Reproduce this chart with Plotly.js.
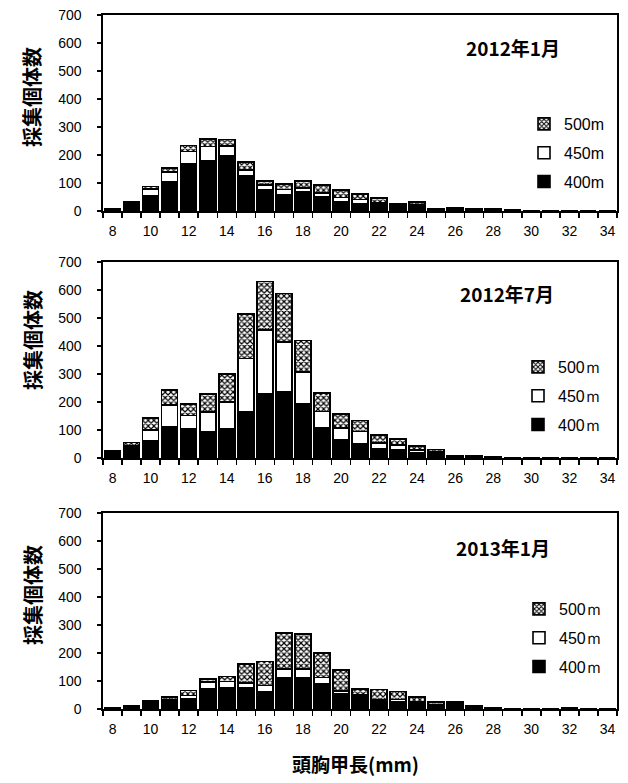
<!DOCTYPE html>
<html>
<head>
<meta charset="utf-8">
<script src="https://cdn.plot.ly/plotly-3.0.1.min.js"></script>
<style>html,body{margin:0;padding:0;background:#fff;}#chart{width:628px;height:783px;}</style>
</head>
<body>
<div id="chart"></div>
<script>
// carapace length classes (mm)
const sizes = [8,9,10,11,12,13,14,15,16,17,18,19,20,21,22,23,24,25,26,27,28,29,30,31,32,33,34];
const tickLabels = [8,10,12,14,16,18,20,22,24,26,28,30,32,34];

// 2012年1月
const jan12_400 = [8,22,53,103,168,181,196,125,75,59,68,50,34,27,24,14,18,5,6,4,4,2,1,1,1,0,1];
const jan12_450 = [0,6,26,36,45,50,36,21,17,18,15,15,14,14,6,4,4,1,2,1,1,0,0,0,0,0,0];
const jan12_500 = [0,5,8,15,21,26,24,28,15,20,24,27,27,20,16,6,10,2,4,3,3,1,0,0,0,0,0];

// 2012年7月
const jul12_400 = [27,35,63,113,103,95,104,166,229,237,193,109,65,50,32,28,20,18,7,6,4,2,2,2,1,1,0];
const jul12_450 = [0,8,38,77,49,69,97,190,228,178,115,57,42,45,22,18,8,4,1,1,0,0,0,0,0,0,0];
const jul12_500 = [0,13,41,53,41,65,98,158,174,172,111,66,50,39,29,22,14,8,1,1,1,0,0,0,0,0,0];

// 2013年1月
const jan13_400 = [3,10,14,28,36,72,74,74,60,113,113,89,54,45,24,26,20,12,13,8,4,2,2,2,5,1,1];
const jan13_450 = [0,0,8,6,12,24,24,18,24,30,30,24,10,4,8,8,6,4,5,0,0,0,0,0,0,0,0];
const jan13_500 = [0,0,7,8,18,12,18,69,85,128,125,87,75,23,37,29,16,8,6,2,0,0,0,0,1,0,0];

const panels = [
  {title: '2012年1月', d400: jan12_400, d450: jan12_450, d500: jan12_500, names: ['400m','450m','500m']},
  {title: '2012年7月', d400: jul12_400, d450: jul12_450, d500: jul12_500, names: ['400ｍ','450ｍ','500ｍ']},
  {title: '2013年1月', d400: jan13_400, d450: jan13_450, d500: jan13_500, names: ['400ｍ','450ｍ','500ｍ']}
];

const W = 628, H = 783;
const L = 103, R = 617, T = 15, B = 709;
const pw = R - L, ph = B - T;
const boxes = [[15,211],[262,458],[513,709]];
const px2x = x => (x - L) / pw;
const px2y = y => (B - y) / ph;

const legendPos = [[524, 107], [518, 350], [519, 592]];
const titlePos = [[513, 47], [507, 293], [503, 547]];
const ytitlePos = [97, 340, 595];

const traces = [];
const layout = {
  width: W, height: H,
  margin: {l: L, r: W - R, t: T, b: H - B, pad: 0},
  paper_bgcolor: '#fff', plot_bgcolor: '#fff',
  barmode: 'stack', bargap: 0.16,
  showlegend: true,
  font: {family: 'Liberation Sans, Arial, sans-serif', size: 14, color: '#000'},
  annotations: [], shapes: []
};

const lineStyle = {color: '#000', width: 1.6};

panels.forEach((p, i) => {
  const k = i === 0 ? '' : String(i + 1);
  const xa = 'x' + k, ya = 'y' + k, lg = 'legend' + k;
  const common = {type: 'bar', x: sizes, xaxis: xa, yaxis: ya, legend: lg, width: 0.84};
  traces.push(Object.assign({}, common, {
    y: p.d400, name: p.names[0], legendgroup: 'a' + i, legendrank: 3,
    marker: {color: '#000', line: lineStyle}
  }));
  traces.push(Object.assign({}, common, {
    y: p.d450, name: p.names[1], legendgroup: 'b' + i, legendrank: 2,
    marker: {color: '#fff', line: lineStyle}
  }));
  traces.push(Object.assign({}, common, {
    y: p.d500, name: p.names[2], legendgroup: 'c' + i, legendrank: 1,
    marker: {color: '#fff', line: lineStyle,
      pattern: {shape: 'x', fgcolor: '#000', bgcolor: '#fff', size: 4, solidity: 0.5}}
  }));

  const dom = [px2y(boxes[i][1]), px2y(boxes[i][0])];
  layout['xaxis' + k] = {
    domain: [0, 1], anchor: ya, type: 'linear', range: [7.5, 34.5],
    tickmode: 'array', tickvals: tickLabels, ticktext: tickLabels.map(String),
    ticks: 'outside', ticklen: 7, tickcolor: 'rgba(0,0,0,0)',
    tickfont: {size: 14, family: 'Liberation Sans, Arial, sans-serif'},
    showline: true, linecolor: '#000', linewidth: 1.6, mirror: true,
    showgrid: false, zeroline: false, fixedrange: true,
    minor: {tick0: 7.5, dtick: 1, ticks: 'outside', ticklen: 5, tickwidth: 1.4, tickcolor: '#000', showgrid: false}
  };
  layout['yaxis' + k] = {
    domain: dom, anchor: xa, range: [0, 700], tickmode: 'linear', tick0: 0, dtick: 100,
    ticks: 'outside', ticklen: 4, tickwidth: 1.2, tickcolor: '#000',
    ticklabelstandoff: 13,
    tickfont: {size: 14, family: 'Liberation Sans, Arial, sans-serif'},
    showline: true, linecolor: '#000', linewidth: 1.6, mirror: true,
    showgrid: false, zeroline: false, fixedrange: true
  };
  layout[lg] = {
    x: px2x(legendPos[i][0]), y: px2y(legendPos[i][1]), xanchor: 'left', yanchor: 'top',
    xref: 'paper', yref: 'paper',
    bgcolor: 'rgba(0,0,0,0)', borderwidth: 0,
    traceorder: 'grouped', tracegroupgap: 5,
    itemwidth: 30, itemclick: false, itemdoubleclick: false,
    font: {size: 16, family: 'Liberation Sans, Arial, sans-serif', color: '#000'}
  };
  layout.annotations.push({
    text: p.title, xref: 'paper', yref: 'paper',
    x: px2x(titlePos[i][0]), y: px2y(titlePos[i][1]), xanchor: 'center', yanchor: 'middle',
    showarrow: false,
    font: {family: 'Noto Sans CJK JP, sans-serif', size: 19, weight: 'bold', color: '#000'}
  });
  layout.annotations.push({
    text: '採集個体数', xref: 'paper', yref: 'paper',
    x: px2x(32), y: px2y(ytitlePos[i]), xanchor: 'center', yanchor: 'middle',
    textangle: -90, showarrow: false,
    font: {family: 'Noto Sans CJK JP, sans-serif', size: 20, weight: 'bold', color: '#000'}
  });
});

layout.annotations.push({
  text: '頭胸甲長(mm)', xref: 'paper', yref: 'paper',
  x: px2x(355), y: px2y(763), xanchor: 'center', yanchor: 'middle', showarrow: false,
  font: {family: 'Noto Sans CJK JP, sans-serif', size: 19, weight: 'bold', color: '#000'}
});

Plotly.newPlot('chart', traces, layout, {staticPlot: true, displayModeBar: false});
</script>
</body>
</html>
